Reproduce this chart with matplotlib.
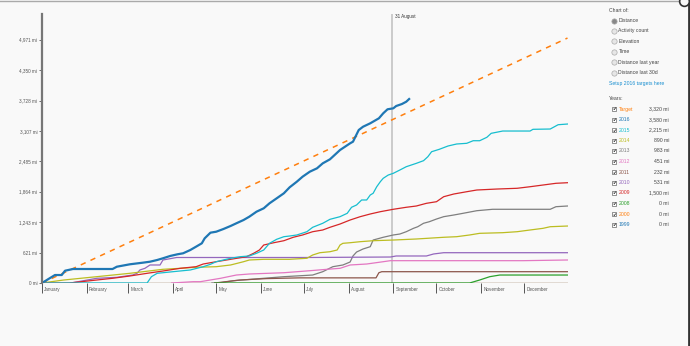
import matplotlib.pyplot as plt
from matplotlib.lines import Line2D

plt.rcParams['font.family'] = ['Liberation Sans', 'DejaVu Sans']

# day of year / cumulative miles
target_days = [0, 365]
target_mi = [0, 5005]

d2016 = [0, 5.6, 9, 13.7, 16, 21.5, 49, 52, 61, 70, 75, 80, 84, 89, 94, 98, 103, 107, 111, 113,
         117, 121, 126, 131, 135, 140, 144, 149, 154, 158, 163, 168, 172, 177, 181, 186, 191,
         195, 200, 207, 214, 216, 220, 223, 228, 234, 237, 240, 244, 246, 250, 253, 255]
m2016 = [0, 102, 163, 163, 251, 286, 286, 333, 382, 415, 435, 470, 505, 552, 586, 607, 674, 742,
         811, 913, 1028, 1048, 1103, 1165, 1220, 1287, 1355, 1457, 1526, 1628, 1730, 1833, 1955,
         2070, 2172, 2274, 2343, 2445, 2527, 2717, 2854, 2887, 3126, 3193, 3263, 3365, 3467,
         3549, 3569, 3616, 3657, 3704, 3759]

d2015 = [0, 73, 76, 80, 91, 103, 112, 117, 121, 126, 131, 137.5, 144, 149, 154, 158, 163, 168,
         172, 177, 184, 188, 195, 200, 207, 212, 215, 218.5, 222, 225.5, 228, 230, 232.5, 235,
         237, 240.5, 244, 248.6, 253, 260, 265, 268, 270.6, 276, 282, 288, 295, 299.5, 304, 309,
         312, 320, 339, 341, 353, 358.5, 365]
m2015 = [0, 0, 129, 198, 231, 266, 333, 382, 435, 470, 505, 537, 552, 607, 674, 811, 893, 946,
         960, 981, 1048, 1138, 1220, 1301, 1355, 1424, 1547, 1594, 1696, 1696, 1798, 1833, 1967,
         2070, 2139, 2206, 2241, 2309, 2376, 2445, 2499, 2580, 2682, 2732, 2799, 2840, 2854,
         2907, 2907, 2977, 3058, 3105, 3105, 3140, 3146, 3234, 3248]

d2014 = [0, 15, 38, 61, 84, 96, 107, 121, 131, 140, 144, 154, 172, 184, 188, 193, 200, 205, 207,
         209, 214, 221, 230, 244, 260, 279, 288, 297, 304, 320, 330, 339, 348, 353, 365]
m2014 = [0, 61, 129, 198, 280, 300, 321, 333, 368, 435, 470, 484, 484, 505, 572, 619, 639, 674,
         776, 811, 823, 844, 864, 878, 899, 934, 946, 981, 1015, 1028, 1048, 1083, 1117, 1150, 1164]

d2013 = [118, 124, 133, 168, 188, 195, 202, 209, 214, 216, 218.5, 223, 228, 230, 237, 244, 248.6,
         253, 258, 261, 265, 269, 274, 279, 286, 292.5, 302, 313, 353, 357, 365]
m2013 = [0, 6, 47, 129, 163, 231, 333, 368, 429, 552, 633, 695, 742, 878, 934, 981, 1001, 1048,
         1117, 1150, 1220, 1252, 1307, 1355, 1389, 1424, 1477, 1506, 1506, 1559, 1573]

d2012 = [90, 105, 110, 124, 135, 144, 168, 186, 198, 207, 214, 225.5, 237, 242, 334, 365]
m2012 = [0, 27, 27, 96, 163, 184, 210, 251, 280, 300, 368, 388, 435, 456, 456, 470]

d2011 = [120, 137.5, 156, 179, 232, 234, 236, 365]
m2011 = [0, 61, 90, 105, 105, 210, 231, 231]

d2010 = [20, 38, 52, 63, 66, 68, 71.5, 75, 82, 84, 93.5, 184, 242, 246, 267, 272, 279, 365]
m2010 = [0, 96, 116, 163, 198, 266, 300, 368, 368, 470, 521, 521, 531, 552, 552, 593, 619, 619]

d2009 = [0, 19, 38, 49, 61, 73, 84, 96, 107, 112, 121, 131, 142, 147, 151, 154, 161, 168, 174.5,
         181, 188, 195, 200, 207, 214, 221, 228, 235, 244, 253, 260, 267, 274, 279, 286, 295,
         302, 316, 330, 339, 348, 357, 365]
m2009 = [0, 0, 61, 96, 143, 198, 245, 300, 333, 388, 435, 484, 537, 607, 674, 776, 823, 864, 934,
         981, 1048, 1083, 1138, 1205, 1287, 1355, 1410, 1457, 1506, 1547, 1573, 1628, 1661, 1763,
         1818, 1865, 1900, 1920, 1935, 1967, 2002, 2037, 2049]

d2008 = [120, 297, 304, 311, 318, 365]
m2008 = [0, 0, 61, 129, 163, 163]

d2000 = [0, 365]
m2000 = [0, 0]
d1999 = [0, 365]
m1999 = [0, 0]

months = ['January', 'February', 'March', 'April', 'May', 'June', 'July', 'August',
          'September', 'October', 'November', 'December']
month_start = [0, 31, 60, 91, 121, 152, 182, 213, 244, 274, 305, 335]
yticks = [0, 621, 1243, 1864, 2485, 3107, 3728, 4350, 4971]

legend_names = ['Target', '2016', '2015', '2014', '2013', '2012', '2011', '2010', '2009',
                '2008', '2000', '1999']
legend_values = ['3,320 mi', '3,580 mi', '2,215 mi', '890 mi', '983 mi', '451 mi', '232 mi',
                 '531 mi', '1,500 mi', '0 mi', '0 mi', '0 mi']
legend_colors = ['#ff7f0e', '#1f77b4', '#17becf', '#bcbd22', '#7f7f7f', '#e377c2', '#8c564b',
                 '#9467bd', '#d62728', '#2ca02c', '#ff7f0e', '#1f77b4']
chart_options = ['Distance', 'Activity count', 'Elevation', 'Time', 'Distance last year',
                 'Distance last 30d']

W, H = 690, 346
bg = '#f9f9f9'
axfs = 3.3
panfs = 3.7
fig = plt.figure(figsize=(W / 100, H / 100), dpi=100, facecolor=bg)
ax = fig.add_axes([42 / W, 63 / H, 525.5 / W, 269 / H], facecolor=bg)

ax.plot(d1999, m1999, color='#1f77b4', lw=0.9)
ax.plot(d2000, m2000, color='#ff7f0e', lw=0.9)
ax.plot(d2013, m2013, color='#7f7f7f', lw=0.9)
ax.plot(d2011, m2011, color='#8c564b', lw=0.9)
ax.plot(d2012, m2012, color='#e377c2', lw=0.9)
ax.plot(d2010, m2010, color='#9467bd', lw=0.9)
ax.plot(d2014, m2014, color='#bcbd22', lw=0.9)
ax.plot(d2009, m2009, color='#d62728', lw=0.9)
ax.plot(d2015, m2015, color='#17becf', lw=0.9)
ax.plot(d2008, m2008, color='#2ca02c', lw=0.9)
ax.plot(target_days, target_mi, color='#ff7f0e', lw=1.1, dashes=(3.5, 3.5))
ax.plot(d2016, m2016, color='#1f77b4', lw=1.6)

ax.axvline(243, color='#c4c4c4', lw=1.2, zorder=0)
ax.text(245, 5440, '31 August', fontsize=axfs, color='#333', va='center', ha='left')

ax.set_xlim(0, 365)
ax.set_ylim(0, 5496)
for s in ['top', 'right', 'bottom']:
    ax.spines[s].set_visible(False)
ax.spines['left'].set_color('#777')
ax.spines['left'].set_linewidth(1.6)

ax.set_yticks(yticks)
ax.set_yticklabels([f'{v:,} mi' for v in yticks], fontsize=axfs, color='#555')
ax.tick_params(axis='y', length=2, width=0.6, color='#555', pad=1.5)

ax.set_xticks(month_start)
ax.set_xticklabels([])
ax.tick_params(axis='x', length=7, width=0.7, color='#555')
for d, name in zip(month_start, months):
    ax.text(d + 1.5, -0.015, name, transform=ax.get_xaxis_transform(), fontsize=axfs,
            color='#555', ha='left', va='top')


def fx(px):
    return px / W


def fy(py):
    return 1 - py / H


# right hand panel
fig.text(fx(609), fy(10), 'Chart of:', fontsize=panfs, color='#444', va='center')
for i, opt in enumerate(chart_options):
    y = 20.5 + i * 10.4
    fig.add_artist(Line2D([fx(614)], [fy(y)], marker='o', ms=3.8,
                          mfc='#888' if i == 0 else '#e6e6e6', mec='#aaa', mew=0.5,
                          transform=fig.transFigure))
    fig.text(fx(618.5), fy(y), opt, fontsize=panfs, color='#444', va='center')
fig.text(fx(609), fy(83.5), 'Setup 2016 targets here', fontsize=panfs, color='#1a8fd0',
         va='center')
fig.text(fx(609), fy(98.5), 'Years:', fontsize=panfs, color='#444', va='center')
for i, (name, val, col) in enumerate(zip(legend_names, legend_values, legend_colors)):
    y = 109 + i * 10.5
    fig.add_artist(Line2D([fx(614)], [fy(y)], marker='s', ms=3.4, mfc='white', mec='#666',
                          mew=0.5, transform=fig.transFigure))
    fig.text(fx(614), fy(y), '\u2714', fontsize=3.4, color='#222', ha='center', va='center',
             family='DejaVu Sans')
    fig.text(fx(618.5), fy(y), name, fontsize=panfs, color=col, va='center')
    fig.text(fx(669), fy(y), val, fontsize=panfs, color='#444', va='center', ha='right')

# frame edges
fig.add_artist(Line2D([0, 1], [fy(0.5), fy(0.5)], color='#aaa', lw=1, transform=fig.transFigure))
fig.add_artist(Line2D([fx(688.5), fx(688.5)], [0, 1], color='#333', lw=2,
                      transform=fig.transFigure))
fig.add_artist(Line2D([fx(684)], [fy(1)], marker='o', ms=7, mfc='#f9f9f9', mec='#333', mew=1.2,
                      transform=fig.transFigure))

fig.savefig('out.png', dpi=100, facecolor=bg)
